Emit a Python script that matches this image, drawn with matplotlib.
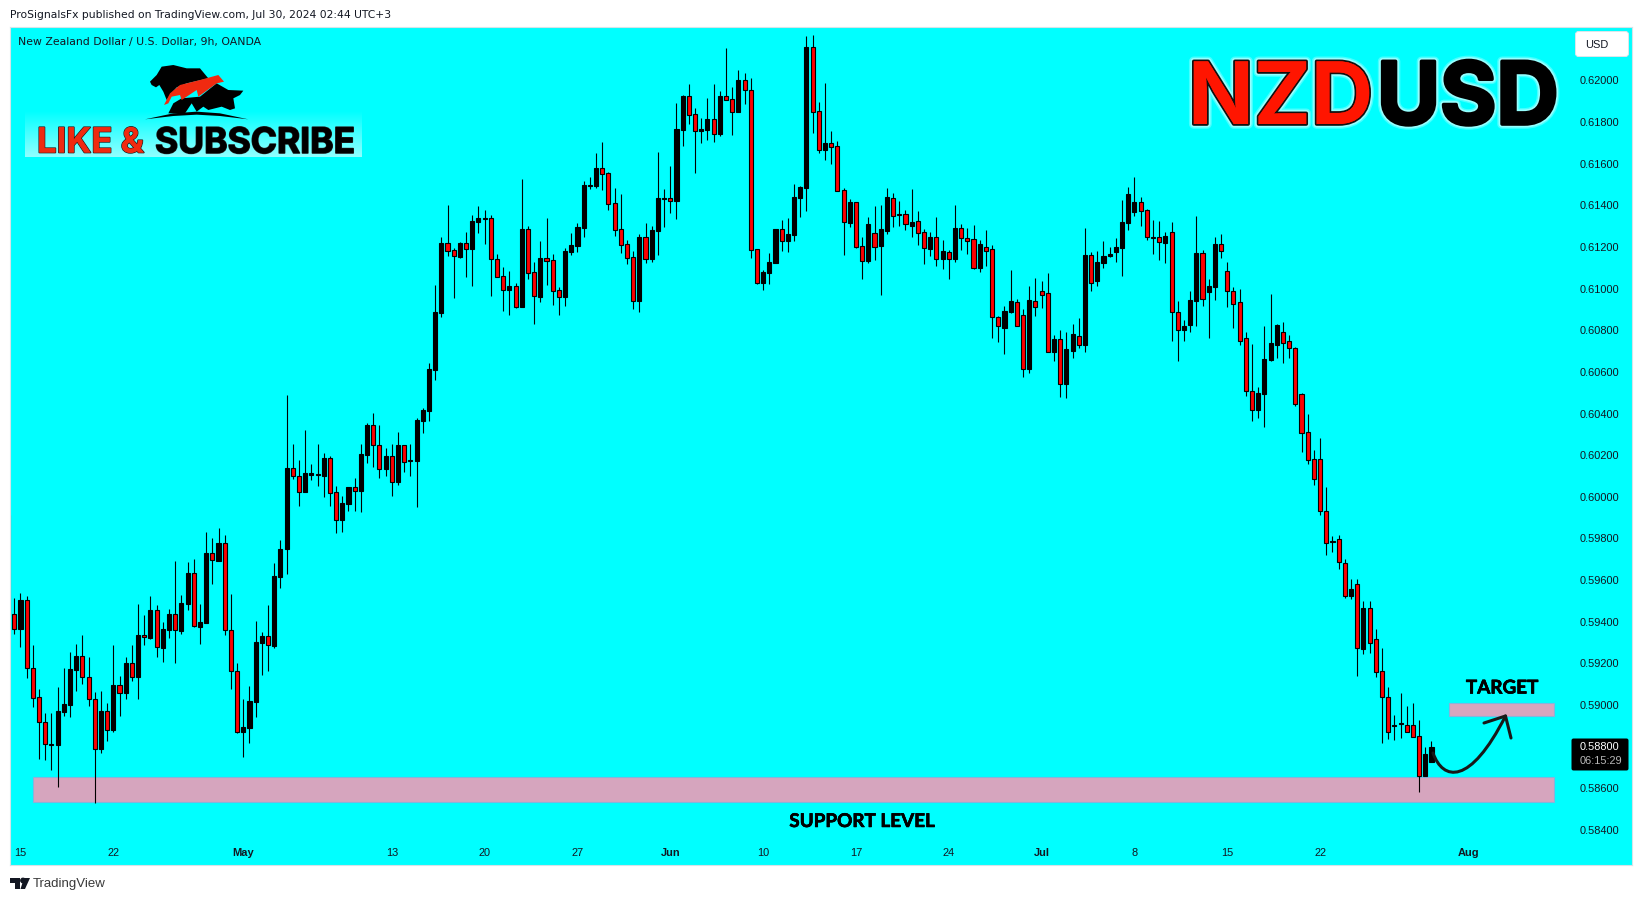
import numpy as np
import matplotlib
matplotlib.use("Agg")
import matplotlib.pyplot as plt
import matplotlib.patheffects as pe
from matplotlib.patches import Rectangle, FancyBboxPatch, Polygon, PathPatch
from matplotlib.path import Path
from matplotlib.transforms import IdentityTransform

W, H = 1643, 901

# prices in 1e-5 units
opens = [59435,59366,59503,59179,59036,58920,58812,58809,58968,59000,59169,59233,59133,59027,58790,58969,58881,59094,59059,59200,
59136,59334,59320,59455,59275,59362,59435,59357,59487,59632,59376,59395,59728,59693,59776,59358,59161,58872,58891,59016,
59299,59330,59285,59616,59748,60136,60101,60024,60106,60109,60101,60184,60021,59890,59967,60045,60029,60202,60343,60250,
60135,60194,60072,60247,60175,60173,60365,60413,60610,60884,61218,61184,61153,61218,61192,61322,61338,61338,61141,61059,
60995,61011,60913,61285,61078,60961,61145,61136,60992,60961,61178,61207,61293,61495,61495,61578,61554,61410,61285,61213,
61151,60942,61247,61144,61279,61433,61434,61423,61764,61924,61838,61759,61764,61814,61745,61924,61910,61851,62001,61953,
61189,61029,61077,61125,61285,61231,61260,61437,61485,62160,61852,61668,61698,61684,61473,61317,61415,61203,61134,61266,
61206,61278,61434,61359,61357,61302,61323,61270,61192,61246,61142,61174,61142,61290,61242,61237,61101,61198,61189,60862,
60812,60889,60934,60872,60614,60939,60987,60977,60695,60756,60543,60702,60771,60729,61160,61037,61125,61158,61176,61195,
61317,61370,61415,61376,61247,61247,61221,61271,60886,60803,60825,60942,61170,60984,61010,61213,61083,60987,60934,60761,
60507,60419,60495,60657,60731,60790,60747,60713,60492,60310,60180,60180,59934,59784,59795,59684,59524,59583,59271,59468,
59319,59161,59036,58900,58908,58906,58906,58853,58659,58727]
closes = [59366,59503,59179,59035,58920,58811,58809,58969,59003,59171,59233,59133,59027,58790,58969,58881,59094,59059,59200,59136,
59334,59325,59455,59277,59363,59435,59358,59488,59632,59378,59398,59728,59695,59776,59358,59161,58872,58892,59017,59301,
59330,59286,59620,59748,60137,60101,60024,60112,60112,60106,60184,60019,59890,59968,60045,60029,60204,60343,60250,60135,
60194,60072,60247,60168,60172,60367,60415,60612,60886,61218,61182,61155,61218,61192,61323,61338,61334,61141,61057,60995,
61011,60913,61285,61077,60963,61145,61134,60990,60961,61179,61208,61295,61497,61498,61578,61553,61409,61284,61212,61149,
60942,61247,61144,61280,61434,61436,61423,61766,61924,61836,61759,61766,61814,61745,61924,61908,61851,62001,61953,61187,
61029,61079,61127,61285,61231,61261,61439,61487,62160,61851,61668,61698,61682,61471,61319,61415,61202,61134,61309,61202,
61285,61439,61351,61355,61312,61318,61269,61197,61246,61144,61179,61144,61290,61245,61230,61101,61213,61182,60862,60822,
60891,60939,60822,60615,60944,60913,60971,60697,60756,60543,60708,60780,60731,61160,61029,61126,61155,61165,61198,61318,
61453,61415,61375,61250,61243,61226,61251,60889,60803,60819,60944,61170,60952,61011,61215,61183,60990,60928,60750,60510,
60419,60497,60660,60737,60824,60741,60716,60447,60308,60178,60087,59934,59780,59787,59688,59524,59559,59274,59468,59298,
59159,59039,58871,58906,58912,58871,58848,58659,58762,58800]
highs = [59514,59536,59523,59288,59077,58960,58960,59086,59177,59254,59293,59336,59230,59062,59067,59009,59288,59139,59230,59288,
59485,59432,59523,59480,59398,59461,59692,59528,59687,59700,59485,59831,59802,59850,59817,59533,59201,59028,59091,59403,
59350,59480,59682,59792,60489,60256,60175,60321,60157,60253,60210,60194,60051,60003,60045,60090,60256,60353,60401,60343,
60232,60252,60309,60247,60256,60377,60425,60641,61017,61246,61402,61193,61222,61272,61354,61397,61378,61354,61166,61104,
61085,61025,61527,61299,61128,61227,61338,61166,61008,61195,61266,61314,61517,61537,61652,61705,61561,61484,61455,61234,
61181,61263,61314,61301,61657,61479,61590,61891,61931,61984,61867,61820,61915,61984,61950,62157,61969,62051,62036,62012,
61191,61090,61171,61287,61330,61340,61503,61493,62214,62219,61897,61988,61758,61710,61484,61431,61417,61246,61344,61397,
61402,61483,61459,61421,61378,61479,61373,61285,61272,61344,61234,61186,61402,61310,61291,61306,61234,61282,61210,60868,
60916,61089,60950,60902,61013,61051,61037,61075,60776,60801,60792,60830,60859,61291,61174,61181,61229,61200,61243,61426,
61488,61536,61440,61383,61330,61325,61272,61320,60941,60848,60989,61349,61186,61046,61248,61263,61128,61008,60998,60792,
60734,60528,60821,60974,60830,60840,60777,60720,60499,60398,60225,60282,60045,59811,59816,59700,59604,59604,59499,59499,
59364,59273,59085,58951,59057,58994,59008,58927,58797,58826]
lows = [59341,59280,59131,58992,58740,58735,58687,58607,58947,58942,59067,59101,58995,58530,58769,58827,58870,58947,59028,59115,
59028,59288,59317,59230,59206,59322,59201,59341,59456,59376,59293,59394,59581,59692,59336,59077,58865,58750,58817,58942,
59144,59163,59274,59562,59629,60087,59955,60023,60080,60051,59999,59955,59824,59832,59931,59931,59927,60162,60143,60090,
60100,60003,60056,60119,60100,59951,60306,60364,60561,60864,61157,60955,61147,61056,61013,61267,61214,60964,61056,60892,
60873,60907,60912,61046,60830,60936,61017,60921,60873,60916,61162,61178,61250,61479,61484,61474,61378,61253,61171,61119,
60902,60888,61123,61128,61162,61296,61364,61335,61686,61791,61556,61700,61714,61705,61734,61907,61738,61849,61887,61147,
61023,60994,61023,61123,61181,61176,61229,61344,61373,61748,61652,61618,61599,61469,61162,61296,61195,61046,61123,61137,
60969,61264,61296,61301,61282,61248,61210,61118,61157,61109,61094,61046,61128,61186,61166,61094,61080,61109,60763,60743,
60686,60883,60820,60575,60595,60868,60907,60695,60652,60479,60474,60667,60715,60695,60989,61013,61099,61152,61128,61061,
61282,61349,61301,61234,61167,61138,61123,60749,60652,60749,60792,60821,60917,60763,60946,61147,60912,60811,60729,60484,
60364,60379,60335,60652,60667,60643,60667,60436,60215,60158,60057,59913,59721,59736,59654,59516,59508,59140,59247,59250,
59135,58818,58836,58831,58840,58869,58847,58581,58658,58725]

price_ticks = [0.584 + 0.002 * i for i in range(19)]
date_ticks = [1, 16, 37, 61, 76, 91, 106, 121, 136, 151, 166, 181, 196, 211, 235]
date_labels = ["15", "22", "May", "13", "20", "27", "Jun", "10", "17", "24", "Jul", "8", "15", "22", "Aug"]
month_labels = ["May", "Jun", "Jul", "Aug"]

support_zone = (0.58533, 0.58655)
target_zone = (0.58946, 0.59010)
clipped_wick = (0.59432, 0.59912)
last_price = "0.58800"
countdown = "06:15:29"

CYAN = "#00FFFF"
RED = "#FF0000"
ZONE = "#D6A5BE"
ZONE_EDGE = "#84B4DC"
TEXT = "#131722"


def to_fig(x, y):
    return x / W, 1 - y / H


def px_xy(x, y):
    # screen px from the top left, for the overlay decorations
    return x, H - y


def main():
    o = np.array(opens) / 1e5
    c = np.array(closes) / 1e5
    hi = np.array(highs) / 1e5
    lo = np.array(lows) / 1e5
    idx = np.arange(len(o))

    fig = plt.figure(figsize=(W / 100, H / 100), dpi=100, facecolor="white")
    ax = fig.add_axes([10 / W, (H - 865) / H, 1622 / W, 838 / H], facecolor=CYAN)
    ax.set_xlim(-0.695, 261.4)
    ax.set_ylim(0.58231, 0.62257)

    # zones
    for (bottom, top), x0, x1 in [(support_zone, 3.0, 248.8), (target_zone, 231.9, 248.8)]:
        ax.add_patch(Rectangle((x0, bottom), x1 - x0, top - bottom, facecolor=ZONE,
                               edgecolor=ZONE_EDGE, linewidth=0.8, zorder=1))

    # candles
    ax.vlines(-0.66, clipped_wick[0], clipped_wick[1], color="#8a8a8a", linewidth=0.9, zorder=2)
    ax.vlines(idx, lo, hi, color="black", linewidth=0.8, zorder=2)
    up = c >= o
    bottoms = np.minimum(o, c)
    heights = np.maximum(np.abs(c - o), 0.00002)
    ax.bar(idx[up], heights[up], bottom=bottoms[up], width=0.66, color="black",
           edgecolor="black", linewidth=0.8, zorder=3)
    ax.bar(idx[~up], heights[~up], bottom=bottoms[~up], width=0.66, color=RED,
           edgecolor="black", linewidth=0.8, zorder=3)

    # axes, labels live inside the plot like on TradingView
    ax.yaxis.tick_right()
    ax.set_yticks(price_ticks)
    ax.set_yticklabels([f"{p:.5f}" for p in price_ticks])
    ax.set_xticks(date_ticks)
    ax.set_xticklabels(date_labels)
    ax.tick_params(axis="y", length=0, pad=-37.4, labelsize=7.9, labelcolor=TEXT)
    ax.tick_params(axis="x", length=0, pad=-12, labelsize=7.9, labelcolor=TEXT)
    for lab in ax.get_yticklabels() + ax.get_xticklabels():
        lab.set_fontfamily("Liberation Sans")
    for lab in ax.get_xticklabels():
        if lab.get_text() in month_labels:
            lab.set_fontweight("bold")
    for sp in ax.spines.values():
        sp.set_color("#D5E3E8")
        sp.set_linewidth(0.8)

    # header and footer text
    x, y = to_fig(10, 14.5)
    fig.text(x, y, "ProSignalsFx published on TradingView.com, Jul 30, 2024 02:44 UTC+3",
             family="DejaVu Sans", fontsize=7.72, color=TEXT, va="center")
    x, y = to_fig(18, 41.5)
    fig.text(x, y, "New Zealand Dollar / U.S. Dollar, 9h, OANDA",
             family="DejaVu Sans", fontsize=7.85, color=TEXT, va="center")
    x, y = to_fig(33, 884.5)
    fig.text(x, y, "TradingView", family="Liberation Sans", fontsize=9.5, color="#3a3a3a", va="center")

    # TradingView mark
    ident = IdentityTransform()
    mark = [[(10, 878), (20, 878), (20, 889), (15, 889), (15, 883), (10, 883)],
            [(24, 878), (30, 878), (25, 889), (20.5, 889)]]
    for pts in mark:
        fig.add_artist(Polygon([px_xy(*p) for p in pts], closed=True, facecolor="#131722",
                               edgecolor="none", transform=ident))
    fig.add_artist(plt.Circle(px_xy(23, 880.5), 2.2, color="#131722", transform=ident))

    # zone captions
    caption_fx = [pe.withStroke(linewidth=0.4, foreground="black"), pe.Normal()]
    x, y = to_fig(1502, 688)
    fig.text(x, y, "TARGET", family="Lato", fontweight="bold", fontsize=13.6, color="black",
             ha="center", va="center", path_effects=caption_fx)
    x, y = to_fig(862, 821.5)
    fig.text(x, y, "SUPPORT LEVEL", family="Lato", fontweight="bold", fontsize=13.6, color="black",
             ha="center", va="center", path_effects=caption_fx)

    # hand drawn arrow
    curve = Path([px_xy(1433, 753), px_xy(1443, 781), px_xy(1470, 786), px_xy(1505.5, 716)],
                 [Path.MOVETO, Path.CURVE4, Path.CURVE4, Path.CURVE4])
    fig.add_artist(PathPatch(curve, facecolor="none", edgecolor="#181818", linewidth=2.2,
                             capstyle="round", transform=ident))
    head = Path([px_xy(1484, 723), px_xy(1505.5, 716), px_xy(1511, 738)],
                [Path.MOVETO, Path.LINETO, Path.LINETO])
    fig.add_artist(PathPatch(head, facecolor="none", edgecolor="#181818", linewidth=2.2,
                             capstyle="round", joinstyle="round", transform=ident))

    # price tag and currency button
    fig.add_artist(FancyBboxPatch(px_xy(1573, 769), 54, 29, boxstyle="round,pad=1.5,rounding_size=2",
                                  facecolor="black", edgecolor="none", transform=ident))
    x, y = to_fig(1580, 746.5)
    fig.text(x, y, last_price, family="Liberation Sans", fontsize=7.9, color="white", va="center")
    x, y = to_fig(1580, 761)
    fig.text(x, y, countdown, family="Liberation Sans", fontsize=7.9, color="#B8B8B8", va="center")

    fig.add_artist(FancyBboxPatch(px_xy(1577, 55), 50, 22, boxstyle="round,pad=1.5,rounding_size=3",
                                  facecolor="white", edgecolor="#DDE6EA", linewidth=0.7, transform=ident))
    x, y = to_fig(1585, 44.5)
    fig.text(x, y, "USD", family="Liberation Sans", fontsize=7.9, color=TEXT, va="center")

    # big title, glow first
    glow = [pe.withStroke(linewidth=7, foreground="#E8FFFF", alpha=0.3),
            pe.withStroke(linewidth=5, foreground="#E8FFFF", alpha=0.5)]
    x, y = to_fig(1373, 92.5)
    fig.text(x, y, "NZD", family="Inter", fontweight="bold", fontsize=62, color="#FF1500", ha="right",
             va="center_baseline",
             path_effects=glow + [pe.withStroke(linewidth=2.6, foreground="#101010"), pe.Normal()])
    x, y = to_fig(1377, 92.5)
    fig.text(x, y, "USD", family="Inter", fontweight="bold", fontsize=62, color="black", ha="left",
             va="center_baseline",
             path_effects=glow + [pe.withStroke(linewidth=2.6, foreground="black"), pe.Normal()])

    # logo backdrop fades out at the top
    backdrop = fig.add_axes([25 / W, (H - 157) / H, 337 / W, 47 / H])
    fade = np.ones((24, 2, 4))
    fade[:, :, 0] = 0.75
    fade[:, :, 3] = np.linspace(0, 0.75, 24)[:, None]
    backdrop.imshow(fade, aspect="auto", interpolation="bilinear")
    backdrop.axis("off")

    # bull and bear
    bear = [(450, 245), (470, 225), (485, 200), (520, 195), (560, 205), (600, 205), (625, 235), (560, 250),
            (530, 262), (510, 285), (500, 300), (490, 275), (478, 255), (468, 262), (455, 255)]
    bull = [(545, 295), (600, 290), (650, 250), (685, 270), (730, 272), (720, 285), (700, 295), (705, 325),
            (690, 330), (665, 320), (625, 330), (610, 320), (590, 335), (575, 310), (555, 340), (505, 340),
            (520, 310)]
    swoosh = [(492, 315), (510, 280), (540, 255), (600, 240), (655, 225), (672, 245), (650, 250), (595, 290),
              (590, 270), (545, 300), (540, 285), (515, 290), (505, 310)]
    arch = [(435, 358), (520, 340), (590, 335), (660, 340), (745, 358), (660, 348), (590, 344), (520, 348)]
    for pts, col, z in [(bear, "black", 5), (bull, "black", 5), (arch, "black", 5), (swoosh, "#F02A10", 6)]:
        fig.add_artist(Polygon([px_xy(a / 3, b / 3) for a, b in pts], closed=True, facecolor=col,
                               edgecolor="none", transform=ident, zorder=z))

    logo_fx = [pe.withStroke(linewidth=1.2, foreground="#202020"), pe.Normal()]
    x, y = to_fig(37, 140)
    fig.text(x, y, "LIKE & ", family="Inter", fontweight="bold", fontsize=25, color="#F02A10",
             va="center_baseline", path_effects=logo_fx, zorder=7)
    x, y = to_fig(155, 140)
    fig.text(x, y, "SUBSCRIBE", family="Inter", fontweight="bold", fontsize=25.5, color="black",
             va="center_baseline", path_effects=logo_fx, zorder=7)

    fig.savefig("out.png", dpi=100, facecolor="white")
    plt.close(fig)


if __name__ == "__main__":
    main()
